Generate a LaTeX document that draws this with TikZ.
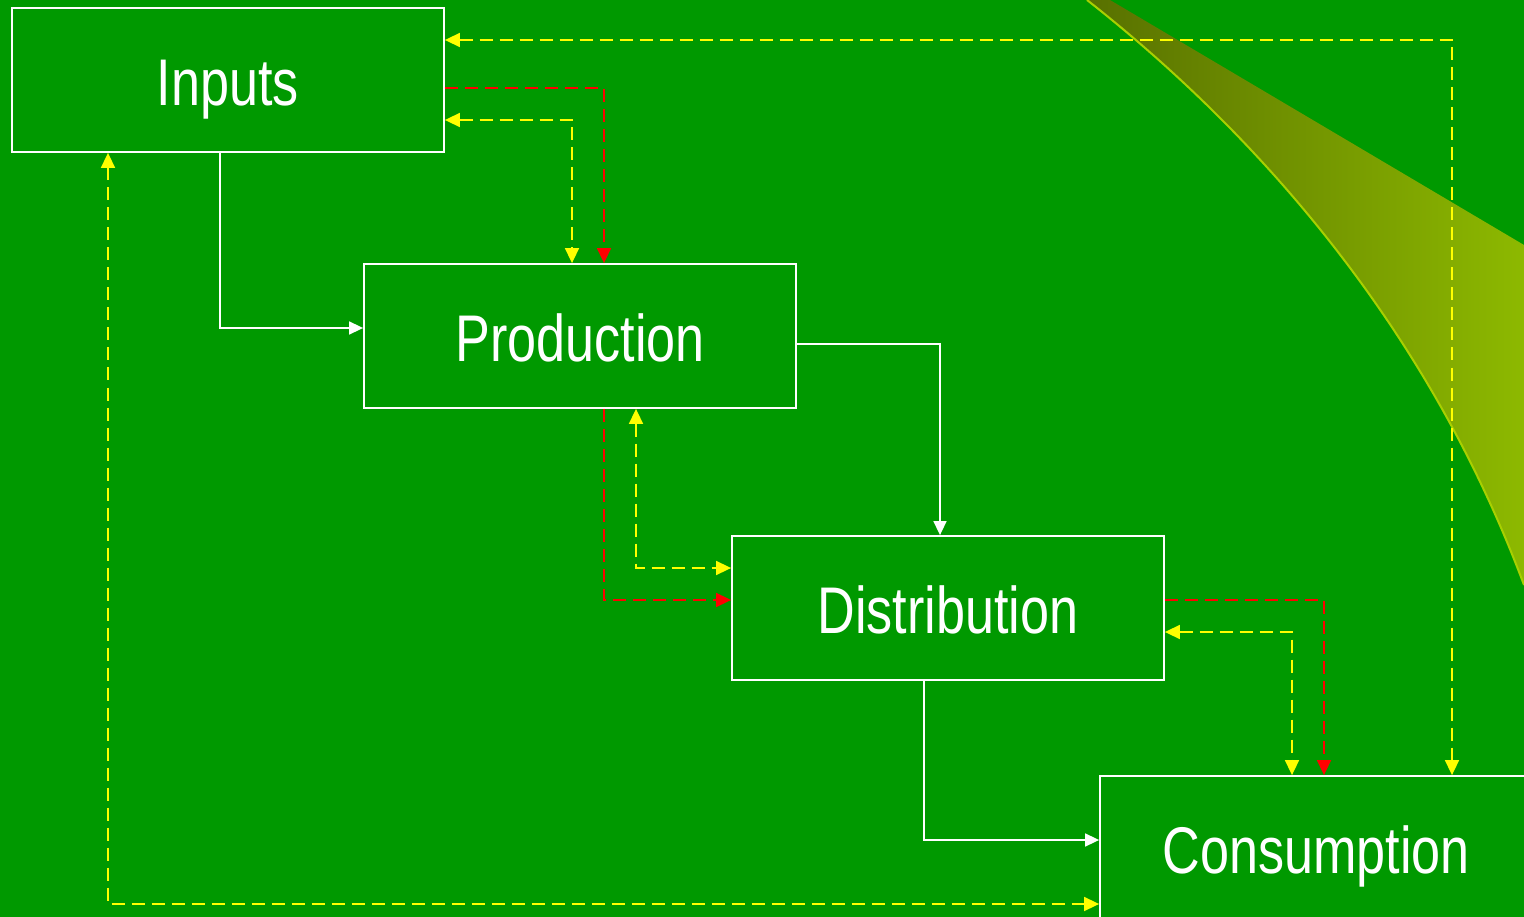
\documentclass[tikz,border=0pt]{standalone}
\usepackage{fontspec}
\setmainfont{Liberation Sans}[FakeStretch=0.79]
\usetikzlibrary{arrows.meta}
\definecolor{bg}{RGB}{0,153,0}
\definecolor{swdark}{RGB}{88,112,0}
\definecolor{swlight}{RGB}{141,185,0}
\definecolor{swedge}{RGB}{168,208,0}
\definecolor{dyellow}{RGB}{255,255,0}
\definecolor{dred}{RGB}{255,0,0}
\tikzset{
  stagebox/.style={draw=white, line width=1.8pt, minimum width=432pt, minimum height=144pt,
    inner sep=0pt, text=white, font=\fontsize{66}{70}\selectfont, text height=47pt, text depth=0pt},
  stagetext/.style={text=white, inner sep=0pt, font=\fontsize{66}{70}\selectfont, text height=47pt, text depth=0pt},
  wline/.style={draw=white, line width=1.6pt, -{Triangle[length=14pt,width=13pt]}},
  yline/.style={draw=dyellow, line width=1.6pt, dash pattern=on 13pt off 7pt,
    {Triangle[length=15pt,width=14pt]}-{Triangle[length=15pt,width=14pt]}},
  rline/.style={draw=dred, line width=1.6pt, dash pattern=on 13pt off 7pt,
    -{Triangle[length=15pt,width=14pt]}},
}
\begin{document}
\begin{tikzpicture}[x=1pt,y=-1pt]
\clip (0,0) rectangle (1524,917);
\fill[bg] (0,0) rectangle (1524,917);
% swoosh
\shade[left color=swdark, right color=swlight]
  (1087,0) .. controls (1250,128) and (1425,320) .. (1524,585) -- (1524,245) -- (1110,0) -- cycle;
\draw[swedge, line width=2pt] (1087,0) .. controls (1250,128) and (1425,320) .. (1524,585);
% boxes
\node[stagebox] (inp)  at (228,80)  {};
\node[stagebox] (prod) at (580,336) {};
\node[stagebox] (dist) at (948,608) {};
\node[stagebox] (cons) at (1316,848) {};
\node[stagetext] (inpt)  at ([yshift=-2pt]inp.center)  {Inputs};
\node[stagetext] (prodt) at ([yshift=-2pt]prod.center) {Production};
\node[stagetext] (distt) at ([yshift=-2pt]dist.center) {Distribution};
\node[stagetext] (const) at ([yshift=-2pt]cons.center) {Consumption};
% white flows
\draw[wline] ([xshift=-8pt]inp.south) |- ([yshift=8pt]prod.west);
\draw[wline] ([yshift=-8pt]prod.east) -| ([xshift=-8pt]dist.north);
\draw[wline] ([xshift=-24pt]dist.south) |- ([yshift=8pt]cons.west);
% yellow feedback
\draw[yline] ([yshift=40pt]inp.east) -| ([xshift=136pt]cons.north);
\draw[yline] ([yshift=-40pt]inp.east) -| ([xshift=-8pt]prod.north);
\draw[yline] ([xshift=56pt]prod.south) |- ([yshift=40pt]dist.west);
\draw[yline] ([yshift=-24pt]dist.east) -| ([xshift=-24pt]cons.north);
\draw[yline] ([xshift=-120pt]inp.south) |- ([yshift=-56pt]cons.west);
% red flows
\draw[rline] ([yshift=-8pt]inp.east) -| ([xshift=24pt]prod.north);
\draw[rline] ([xshift=24pt]prod.south) |- ([yshift=8pt]dist.west);
\draw[rline] ([yshift=8pt]dist.east) -| ([xshift=8pt]cons.north);
\end{tikzpicture}
\end{document}
